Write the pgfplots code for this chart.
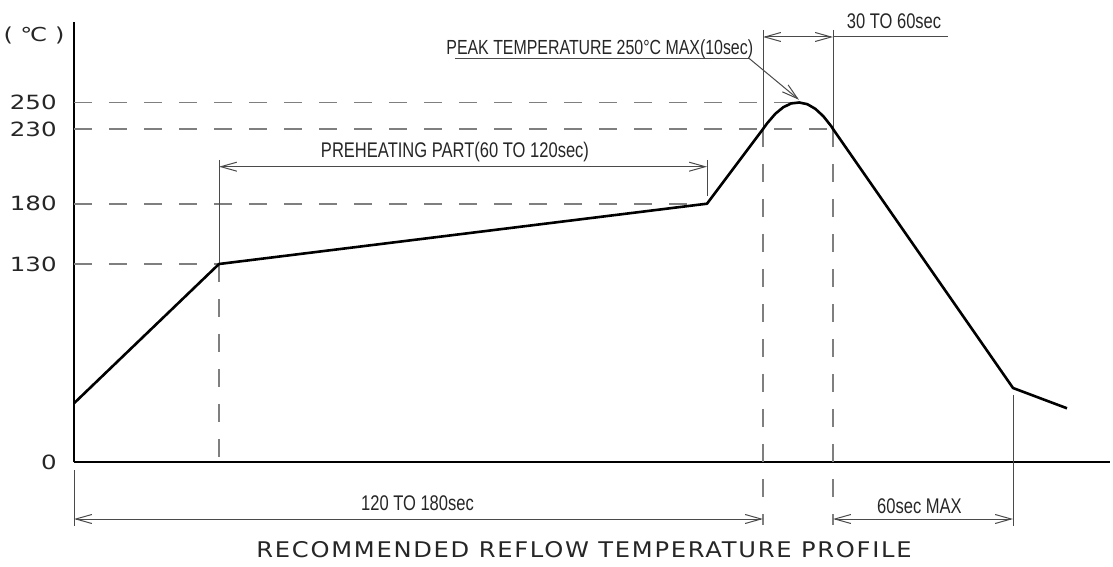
\documentclass[border=0pt]{standalone}
\usepackage{fontspec}
\usepackage{pgfplots}
\pgfplotsset{compat=1.18}
\usetikzlibrary{arrows.meta}
\setmainfont{DejaVu Sans}
\newfontfamily\narrowfont[FakeStretch=0.78]{Liberation Sans}
\newfontfamily\tickfont[FakeStretch=1.25]{DejaVu Sans}
\newfontfamily\titlefont[FakeStretch=1.12,LetterSpace=8]{DejaVu Sans}
\newfontfamily\degfont{DejaVu Sans}
\definecolor{guide}{HTML}{7F7F7F}
\definecolor{dimc}{HTML}{4A4A4A}
\begin{document}
\begin{tikzpicture}[
  dim/.style={draw=dimc, line width=0.5pt},
  dimarr/.style={dim, {Straight Barb[length=8pt,width=4.5pt]}-{Straight Barb[length=8pt,width=4.5pt]}},
  guide/.style={draw=guide, line width=0.9pt, dash pattern=on 9pt off 8.5pt},
  lab/.style={font=\narrowfont\fontsize{10.6}{12}\selectfont, inner sep=0pt, text=black!85}
]
\begin{axis}[
  x=0.5pt, y=0.5pt,
  xmin=0, xmax=1036, ymin=0, ymax=440,
  enlargelimits=false, clip=false,
  axis lines=left,
  axis line style={-, line width=1.1pt},
  xtick=\empty,
  ytick={0,198.3,258.6,333.3,359.8},
  yticklabels={0,130,180,230,250},
  major tick length=0pt,
  yticklabel style={font=\tickfont\fontsize{9.8}{11}\selectfont, inner sep=0pt, xshift=-8.5pt, text=black!85},
]
% guide lines (dashed)
\draw[guide] (axis cs:0,359.8) -- (axis cs:726,359.8);
\draw[guide] (axis cs:0,333.3) -- (axis cs:759,333.3);
\draw[guide] (axis cs:0,258.6) -- (axis cs:633,258.6);
\draw[guide] (axis cs:0,198.3) -- (axis cs:145,198.3);
\draw[guide] (axis cs:145,198.3) -- (axis cs:145,0);
\draw[guide] (axis cs:689,333.3) -- (axis cs:689,-63);
\draw[guide] (axis cs:759,333.3) -- (axis cs:759,-63);
% extension lines (solid thin)
\draw[dim] (axis cs:145,302.3) -- (axis cs:145,198.3);
\draw[dim] (axis cs:633,302.3) -- (axis cs:633,266);
\draw[dim] (axis cs:689,432.3) -- (axis cs:689,333.3);
\draw[dim] (axis cs:759,432.3) -- (axis cs:759,333.3);
\draw[dim] (axis cs:939,67.3) -- (axis cs:939,-63.4);
\draw[dim] (axis cs:0,-7.7) -- (axis cs:0,-63.4);
% dimension arrows
\draw[dimarr] (axis cs:145,295.6) -- (axis cs:633,295.6);
\draw[dimarr] (axis cs:689,425.3) -- (axis cs:759,425.3);
\draw[dim] (axis cs:759,425.3) -- (axis cs:874,425.3);
\draw[dimarr] (axis cs:0,-56.7) -- (axis cs:689,-56.7);
\draw[dimarr] (axis cs:759,-56.7) -- (axis cs:939,-56.7);
% peak leader
\draw[dim] (axis cs:381,404) -- (axis cs:675,404);
\draw[dim, -{Straight Barb[length=8pt,width=4.5pt]}] (axis cs:675,404) -- (axis cs:725,362.5);
% profile
\addplot[black, line width=1.3pt, line join=round] coordinates {
 (0,59) (145,198.3) (633,258.6) (689,333.3) (693.3,339.2) (701.3,348.5)
 (709.3,355.1) (717.3,358.9) (725.3,359.8) (733.3,358.1) (741.3,353.5)
 (749.3,346.1) (757.3,336.0) (759,333.3) (939,74.3) (993,54)
};
% texts
\node[lab, anchor=base] at (axis cs:381,304.3) {PREHEATING PART(60 TO 120sec)};
\node[lab, anchor=base west, font=\narrowfont\fontsize{10.2}{12}\selectfont] at (axis cs:372,407.8) {PEAK TEMPERATURE 250°C MAX(10sec)};
\node[lab, anchor=base] at (axis cs:820,433.3) {30 TO 60sec};
\node[lab, anchor=base] at (axis cs:343.5,-48.4) {120 TO 180sec};
\node[lab, anchor=base] at (axis cs:845.5,-50.7) {60sec MAX};
\node[inner sep=0pt, anchor=base, text=black!85, font=\titlefont\fontsize{10.8}{12}\selectfont] at (axis cs:510,-95) {RECOMMENDED REFLOW TEMPERATURE PROFILE};
\node[inner sep=0pt, anchor=center, text=black!85, font=\tickfont\fontsize{9.6}{11}\selectfont] at (axis cs:-40,427.3) {( ℃ )};
\end{axis}
\pgfresetboundingbox
\path[use as bounding box] (-37pt,-52.35pt) rectangle (519.5pt,231.15pt);
\end{tikzpicture}
\end{document}
